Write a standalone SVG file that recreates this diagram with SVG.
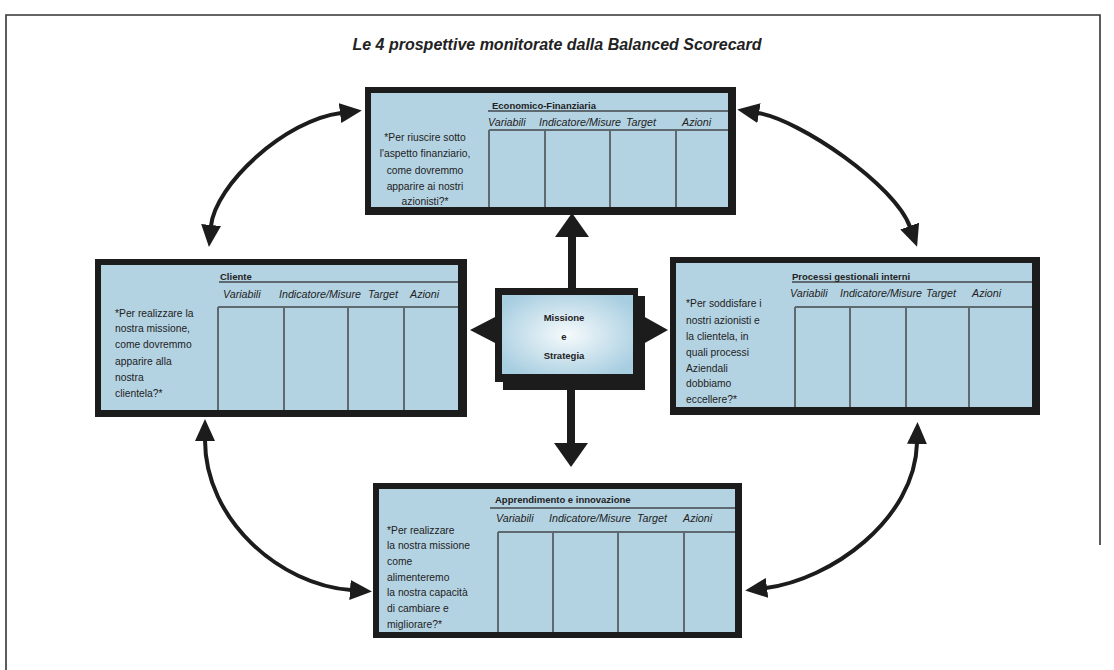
<svg xmlns="http://www.w3.org/2000/svg" width="1114" height="670" viewBox="0 0 1114 670">
  <style>
    text { font-family: "Liberation Sans", Arial, sans-serif; fill: #222; }
    .title { font-size: 16px; font-weight: bold; font-style: italic; text-anchor: middle; }
    .frame { fill: none; stroke: #333; stroke-width: 1.6; }
    .border { fill: #1c1c1c; }
    .panel { fill: #b4d3e2; }
    .grid { stroke: #5e6a70; stroke-width: 2; fill: none; }
    .head { font-size: 9.5px; font-weight: bold; }
    .col { font-size: 10.7px; font-style: italic; }
    .quote { font-size: 10.3px; }
    .qc { text-anchor: middle; }
    .core { font-size: 9.5px; font-weight: bold; text-anchor: middle; }
    .link { fill: none; stroke: #1c1c1c; stroke-width: 4; }
    .solid { fill: #1c1c1c; }
  </style>
  <defs>
    <marker id="head" markerUnits="userSpaceOnUse" markerWidth="22" markerHeight="20" viewBox="0 0 22 20" refX="1" refY="10" orient="auto-start-reverse">
      <path d="M0,0 L22,10 L0,20 z" fill="#1c1c1c"/>
    </marker>
    <radialGradient id="glow" cx="0.5" cy="0.5" r="0.62">
      <stop offset="0" stop-color="#f6fafc"/>
      <stop offset="1" stop-color="#a6cde0"/>
    </radialGradient>
  </defs>

  <!-- page frame -->
  <path class="frame" d="M6,670 V15 H1100 V545"/>
  <text class="title" x="557" y="50">Le 4 prospettive monitorate dalla Balanced Scorecard</text>

  <!-- connectors -->
  <g id="connectors">
    <path class="link" d="M211,226 C215,185 285,120 341,113" marker-start="url(#head)" marker-end="url(#head)"/>
    <path class="link" d="M758,113 C800,120 895,185 910,227" marker-start="url(#head)" marker-end="url(#head)"/>
    <path class="link" d="M205,440 C205,520 280,585 351,590" marker-start="url(#head)" marker-end="url(#head)"/>
    <path class="link" d="M917,443 C915,520 830,580 766,588" marker-start="url(#head)" marker-end="url(#head)"/>
    <!-- straight arrows out of the core -->
    <rect class="solid" x="568" y="234" width="8" height="56"/>
    <path class="solid" d="M555,237 L589,237 L572,213 z"/>
    <rect class="solid" x="567" y="388" width="8" height="57"/>
    <path class="solid" d="M554,443 L588,443 L571,467 z"/>
    <path class="solid" d="M497,316 L497,344 L470,330 z"/>
    <path class="solid" d="M643,316 L643,344 L668,330 z"/>
  </g>

  <!-- Economico-Finanziaria -->
  <g id="economico">
    <rect class="border" x="365" y="87" width="371" height="128"/>
    <rect class="panel" x="371" y="93" width="357" height="114"/>
    <path class="grid" d="M488,111 H728 M489,130 H728 M489,130 V207 M545,130 V207 M610,130 V207 M676,130 V207"/>
    <text class="head" x="492" y="109">Economico-Finanziaria</text>
    <text class="col" x="488" y="126">Variabili</text>
    <text class="col" x="539" y="126">Indicatore/Misure</text>
    <text class="col" x="626" y="126">Target</text>
    <text class="col" x="682" y="126">Azioni</text>
    <text class="quote qc" x="425" y="141">*Per riuscire sotto</text>
    <text class="quote qc" x="425" y="157">l'aspetto finanziario,</text>
    <text class="quote qc" x="425" y="174">come dovremmo</text>
    <text class="quote qc" x="425" y="190">apparire ai nostri</text>
    <text class="quote qc" x="425" y="205">azionisti?*</text>
  </g>

  <!-- Cliente -->
  <g id="cliente">
    <rect class="border" x="95" y="259" width="372" height="158"/>
    <rect class="panel" x="101" y="265" width="357" height="145"/>
    <path class="grid" d="M219,282 H458 M218,307 H458 M218,307 V410 M284,307 V410 M348,307 V410 M404,307 V410"/>
    <text class="head" x="220" y="280">Cliente</text>
    <text class="col" x="223" y="298">Variabili</text>
    <text class="col" x="279" y="298">Indicatore/Misure</text>
    <text class="col" x="368" y="298">Target</text>
    <text class="col" x="410" y="298">Azioni</text>
    <text class="quote" x="115" y="317">*Per realizzare la</text>
    <text class="quote" x="115" y="332">nostra missione,</text>
    <text class="quote" x="115" y="348">come dovremmo</text>
    <text class="quote" x="115" y="365">apparire alla</text>
    <text class="quote" x="115" y="381">nostra</text>
    <text class="quote" x="115" y="397">clientela?*</text>
  </g>

  <!-- Processi gestionali interni -->
  <g id="processi">
    <rect class="border" x="670" y="257" width="370" height="158"/>
    <rect class="panel" x="676" y="263" width="356" height="144"/>
    <path class="grid" d="M792,282 H1032 M795,307 H1032 M795,307 V407 M850,307 V407 M906,307 V407 M969,307 V407"/>
    <text class="head" x="792" y="280">Processi gestionali interni</text>
    <text class="col" x="790" y="297">Variabili</text>
    <text class="col" x="840" y="297">Indicatore/Misure</text>
    <text class="col" x="926" y="297">Target</text>
    <text class="col" x="972" y="297">Azioni</text>
    <text class="quote" x="686" y="307">*Per soddisfare i</text>
    <text class="quote" x="686" y="324">nostri azionisti e</text>
    <text class="quote" x="686" y="340">la clientela, in</text>
    <text class="quote" x="686" y="356">quali processi</text>
    <text class="quote" x="686" y="372">Aziendali</text>
    <text class="quote" x="686" y="387">dobbiamo</text>
    <text class="quote" x="686" y="403">eccellere?*</text>
  </g>

  <!-- Apprendimento e innovazione -->
  <g id="apprendimento">
    <rect class="border" x="373" y="483" width="369" height="155"/>
    <rect class="panel" x="379" y="489" width="356" height="143"/>
    <path class="grid" d="M490,508 H735 M498,532 H735 M498,532 V632 M553,532 V632 M618,532 V632 M684,532 V632"/>
    <text class="head" x="495" y="503">Apprendimento e innovazione</text>
    <text class="col" x="496" y="522">Variabili</text>
    <text class="col" x="549" y="522">Indicatore/Misure</text>
    <text class="col" x="637" y="522">Target</text>
    <text class="col" x="683" y="522">Azioni</text>
    <text class="quote" x="387" y="534">*Per realizzare</text>
    <text class="quote" x="387" y="549">la nostra missione</text>
    <text class="quote" x="387" y="565">come</text>
    <text class="quote" x="387" y="581">alimenteremo</text>
    <text class="quote" x="387" y="596">la nostra capacità</text>
    <text class="quote" x="387" y="612">di cambiare e</text>
    <text class="quote" x="387" y="628">migliorare?*</text>
  </g>

  <!-- Missione e Strategia -->
  <g id="missione">
    <rect class="border" x="503" y="296" width="142" height="94"/>
    <rect class="border" x="495" y="288" width="143" height="94"/>
    <rect x="502" y="295" width="131" height="79" fill="url(#glow)"/>
    <text class="core" x="564" y="321">Missione</text>
    <text class="core" x="564" y="340">e</text>
    <text class="core" x="564" y="359">Strategia</text>
  </g>
</svg>
